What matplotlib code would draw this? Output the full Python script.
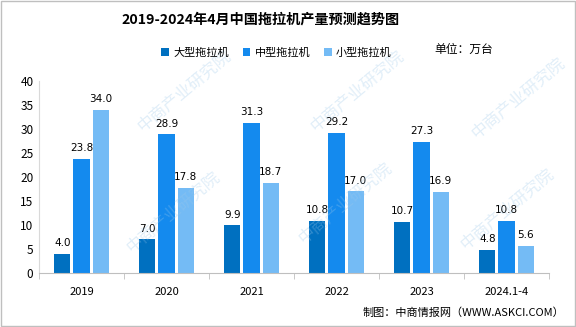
import numpy as np
import matplotlib.pyplot as plt

plt.rcParams['font.family'] = ['Noto Sans CJK SC', 'DejaVu Sans']

years = ['2019', '2020', '2021', '2022', '2023', '2024.1-4']
large = [4.0, 7.0, 9.9, 10.8, 10.7, 4.8]
medium = [23.8, 28.9, 31.3, 29.2, 27.3, 10.8]
small = [34.0, 17.8, 18.7, 17.0, 16.9, 5.6]
names = ['大型拖拉机', '中型拖拉机', '小型拖拉机']
colors = ['#0070C0', '#148AEE', '#74BBF5']

fig = plt.figure(figsize=(5.76, 3.27), dpi=100)
ax = fig.add_axes([39 / 576, 54 / 327, 510 / 576, 192 / 327])

# faint watermark
for wx, wy in [(0.32, 0.72), (0.62, 0.72), (0.9, 0.7), (0.3, 0.35), (0.6, 0.38), (0.88, 0.36)]:
    fig.text(wx, wy, '中商产业研究院', rotation=40, fontsize=12, color='#9cc8ea',
             alpha=0.3, ha='center', va='center', zorder=0)

x = np.arange(len(years))
w = 0.19
step = 0.225
for i, (vals, name, c) in enumerate(zip([large, medium, small], names, colors)):
    pos = x + (i - 1) * step
    ax.bar(pos, vals, width=w, color=c, label=name, zorder=2)
    for p, v in zip(pos, vals):
        ax.text(p, v + 1.2, f'{v:.1f}', ha='center', va='bottom', fontsize=7.5,
                family='DejaVu Sans')

ax.set_xlim(-0.5, len(years) - 0.5)
ax.set_ylim(0, 40)
ax.set_yticks(range(0, 41, 5))
ax.set_xticks(x)
ax.set_xticklabels(years)
ax.set_xticks(np.arange(-0.5, len(years), 1), minor=True)
ax.tick_params(axis='x', which='major', length=0, labelsize=8, pad=10)
ax.tick_params(axis='x', which='minor', length=4, color='#bfbfbf')
ax.tick_params(axis='y', length=0, labelsize=8.5, pad=4)
for s in ['top', 'right']:
    ax.spines[s].set_visible(False)
ax.spines['left'].set_color('#d9d9d9')
ax.spines['bottom'].set_color('#bfbfbf')

fig.text(0.453, 0.94, '2019-2024年4月中国拖拉机产量预测趋势图', ha='center', va='center',
         fontsize=10.2, fontweight='bold')
fig.legend(loc='center', bbox_to_anchor=(0.48, 0.838), ncol=3, frameon=False,
           fontsize=8, handlelength=0.7, handleheight=0.7, columnspacing=1.2, handletextpad=0.4)
fig.text(0.805, 0.848, '单位：万台', ha='center', va='center', fontsize=8.5)
fig.text(0.98, 0.045, '制图：中商情报网（WWW.ASKCI.COM）', ha='right', va='center', fontsize=8)

fig.patches.append(plt.Rectangle((0.001, 0.002), 0.997, 0.995, transform=fig.transFigure,
                                 fill=False, edgecolor='#bfbfbf', lw=1))

fig.savefig('out.png', dpi=100)
